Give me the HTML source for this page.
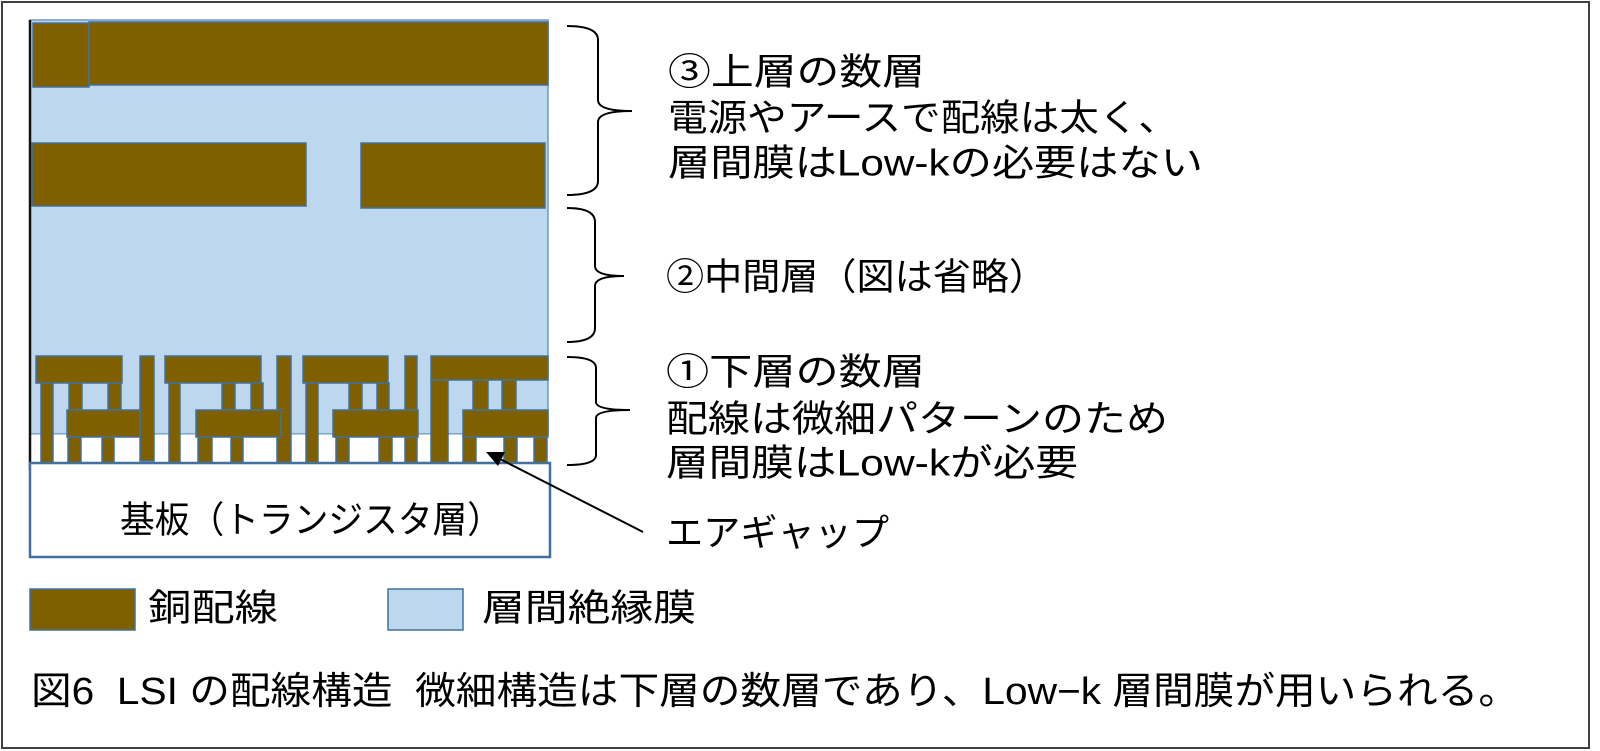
<!DOCTYPE html>
<html><head><meta charset="utf-8"><style>
html,body{margin:0;padding:0;background:#fff;}
svg{display:block;}
text{font-family:"Liberation Sans","Noto Sans CJK JP",sans-serif;fill:#000;}
.pre{white-space:pre;}
</style></head><body>
<svg width="1600" height="751" viewBox="0 0 1600 751" xmlns="http://www.w3.org/2000/svg">
<rect x="2" y="2" width="1587" height="746" fill="#fff" stroke="#404040" stroke-width="2"/>
<rect x="30" y="20" width="518" height="414" fill="#bdd7ee" stroke="#6f98c4" stroke-width="1.5"/>
<rect x="30" y="434" width="518" height="29" fill="#fff"/>
<line x1="30" y1="434" x2="548" y2="434" stroke="#6f98c4" stroke-width="1"/>
<g fill="#7f6000" stroke="#41719c" stroke-width="1.5">
<rect x="33" y="23" width="56" height="64"/>
<rect x="89" y="22" width="459" height="63"/>
<rect x="32" y="143" width="274" height="63"/>
<rect x="361" y="143" width="184" height="65"/>
<rect x="36" y="356" width="86" height="27"/>
<rect x="165" y="356" width="96" height="27"/>
<rect x="303" y="356" width="85" height="27"/>
<rect x="431" y="356" width="117" height="24"/>
<rect x="140" y="356" width="14" height="105"/>
<rect x="277" y="356" width="14" height="107"/>
<rect x="405" y="356" width="12" height="107"/>
<rect x="41" y="383" width="12" height="80"/>
<rect x="169" y="383" width="11" height="80"/>
<rect x="306" y="383" width="12" height="80"/>
<rect x="431" y="380" width="17" height="83"/>
<rect x="69" y="383" width="13" height="27"/>
<rect x="108" y="383" width="13" height="27"/>
<rect x="222" y="383" width="13" height="27"/>
<rect x="251" y="383" width="12" height="27"/>
<rect x="349" y="383" width="13" height="27"/>
<rect x="377" y="383" width="12" height="27"/>
<rect x="473" y="380" width="15" height="30"/>
<rect x="502" y="380" width="14" height="30"/>
<rect x="67" y="410" width="73" height="27"/>
<rect x="196" y="410" width="85" height="27"/>
<rect x="333" y="410" width="85" height="27"/>
<rect x="463" y="410" width="85" height="27"/>
<rect x="68" y="437" width="13" height="26"/>
<rect x="102" y="437" width="12" height="26"/>
<rect x="198" y="437" width="14" height="26"/>
<rect x="231" y="437" width="12" height="26"/>
<rect x="336" y="437" width="13" height="26"/>
<rect x="379" y="437" width="13" height="26"/>
<rect x="463" y="437" width="13" height="26"/>
<rect x="504" y="437" width="13" height="26"/>
<rect x="534" y="437" width="13" height="26"/>
</g>
<line x1="30" y1="20" x2="30" y2="470" stroke="#111" stroke-width="2.5"/>
<rect x="30" y="463" width="520" height="94" fill="#fff" stroke="#41719c" stroke-width="2.5"/>
<text x="120" y="520" font-size="37" dominant-baseline="central" textLength="382" lengthAdjust="spacingAndGlyphs">基板（トランジスタ層）</text>
<g fill="none" stroke="#000" stroke-width="2">
<path d="M567,26 Q598,26 598,40 L598,100 Q598,111 632,111 Q598,111 598,122 L598,181 Q598,195 567,195"/>
<path d="M567,208 Q595,208 595,222 L595,266 Q595,276 624,276 Q595,276 595,286 L595,328 Q595,342 567,342"/>
<path d="M567,357 Q596,357 596,368 L596,402 Q596,410 630,410 Q596,410 596,418 L596,455 Q596,465 567,465"/>
</g>
<line x1="643" y1="532" x2="496" y2="457" stroke="#000" stroke-width="2"/>
<polygon points="486,452 505,452 498,466" fill="#000"/>
<g font-size="37">
<text x="668" y="72" dominant-baseline="central" textLength="257" lengthAdjust="spacingAndGlyphs">③上層の数層</text>
<text x="668" y="118" dominant-baseline="central" textLength="510" lengthAdjust="spacingAndGlyphs">電源やアースで配線は太く、</text>
<text x="668" y="163" dominant-baseline="central" textLength="535" lengthAdjust="spacingAndGlyphs">層間膜はLow-kの必要はない</text>
<text x="666" y="277" dominant-baseline="central" textLength="381" lengthAdjust="spacingAndGlyphs">②中間層（図は省略）</text>
<text x="666" y="372" dominant-baseline="central" textLength="259" lengthAdjust="spacingAndGlyphs">①下層の数層</text>
<text x="666" y="419" dominant-baseline="central" textLength="502" lengthAdjust="spacingAndGlyphs">配線は微細パターンのため</text>
<text x="666" y="463" dominant-baseline="central" textLength="412" lengthAdjust="spacingAndGlyphs">層間膜はLow-kが必要</text>
<text x="666" y="533" dominant-baseline="central" textLength="223" lengthAdjust="spacingAndGlyphs">エアギャップ</text>
</g>
<rect x="30" y="589" width="105" height="41" fill="#7f6000" stroke="#41719c" stroke-width="1.5"/>
<text x="148" y="608" font-size="37" dominant-baseline="central" textLength="130" lengthAdjust="spacingAndGlyphs">銅配線</text>
<rect x="388" y="589" width="75" height="41" fill="#bdd7ee" stroke="#41719c" stroke-width="1.5"/>
<text x="482" y="608" font-size="37" dominant-baseline="central" textLength="214" lengthAdjust="spacingAndGlyphs">層間絶縁膜</text>
<text class="pre" xml:space="preserve" x="31" y="692" font-size="38" dominant-baseline="central" textLength="1488" lengthAdjust="spacingAndGlyphs">図6  LSI の配線構造  微細構造は下層の数層であり、Low−k 層間膜が用いられる。</text>
</svg>
</body></html>
